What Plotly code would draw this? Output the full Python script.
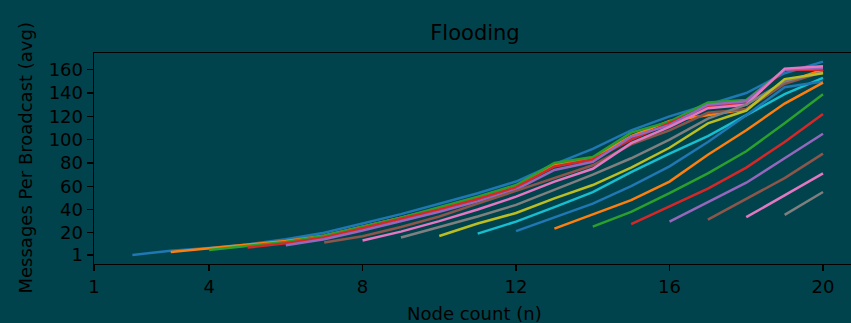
import plotly.graph_objects as go

# x values (node count n)
node_counts = [2, 3, 4, 5, 6, 7, 8, 9, 10, 11, 12, 13, 14, 15, 16, 17, 18, 19, 20]

# Each series starts at a different node count and runs to n = 20
flood_from_2 = [1, 4.5, 7, 10, 14.5, 20, 28, 36, 45, 54, 64, 79, 92, 108, 120, 130, 140, 157, 167]
flood_from_3 = [3.5, 6.5, 9.5, 13, 17.5, 25, 33, 41, 50, 60, 78, 84, 103, 116, 121, 126, 149, 160]
flood_from_4 = [5.3, 8.5, 12.2, 17.5, 25, 33, 42, 51, 61, 80, 85, 106, 115.5, 132, 134, 160, 161]
flood_from_5 = [7.3, 11, 16, 24, 32, 40, 49, 59, 77, 83, 100, 114, 128.5, 131, 160, 160]
flood_from_6 = [9.3, 14.5, 22, 30, 38, 47, 57, 74, 81, 102.5, 112.5, 130, 133, 160, 161.5]
flood_from_7 = [11.6, 17, 25, 34, 45, 56, 67, 78, 96, 108, 123, 126, 148, 158]
flood_from_8 = [13.3, 21, 30, 40, 51, 64, 75, 97, 111, 127, 130, 161, 163]
flood_from_9 = [15.9, 25, 34, 44, 57, 70, 84, 100, 118, 130, 150, 158]
flood_from_10 = [17.3, 28, 37, 49.5, 61, 76, 93, 114, 125, 152, 157]
flood_from_11 = [19.3, 29.6, 42, 55, 72, 88, 103, 121, 139, 153]
flood_from_12 = [21.4, 33, 45, 60, 77, 98, 121, 145, 150]
flood_from_13 = [23.6, 36, 48, 64, 87, 108, 131, 149]
flood_from_14 = [25.3, 38, 54, 71, 90, 114, 139]
flood_from_15 = [27.4, 42.5, 58, 76, 98, 122]
flood_from_16 = [29.6, 46, 63, 84, 105]
flood_from_17 = [31.3, 49, 67, 88]
flood_from_18 = [33.4, 52, 71]
flood_from_19 = [35.4, 55]

series_list = [flood_from_2, flood_from_3, flood_from_4, flood_from_5, flood_from_6,
               flood_from_7, flood_from_8, flood_from_9, flood_from_10, flood_from_11,
               flood_from_12, flood_from_13, flood_from_14, flood_from_15, flood_from_16,
               flood_from_17, flood_from_18, flood_from_19]

x_tick_vals = [1, 4, 8, 12, 16, 20]
y_tick_vals = [1, 20, 40, 60, 80, 100, 120, 140, 160]

palette = ["#1f77b4", "#ff7f0e", "#2ca02c", "#d62728", "#9467bd",
           "#8c564b", "#e377c2", "#7f7f7f", "#bcbd22", "#17becf"]

BG = "#01434c"
FONT = "DejaVu Sans"

fig = go.Figure()
for i, vals in enumerate(series_list):
    fig.add_trace(go.Scatter(
        x=node_counts[-len(vals):], y=vals, mode="lines",
        line=dict(color=palette[i % 10], width=2.5),
        showlegend=False, hoverinfo="skip"))

fig.update_layout(
    width=851, height=323,
    margin=dict(l=94, r=0, t=53, b=59),
    paper_bgcolor=BG, plot_bgcolor=BG,
    font=dict(family=FONT, size=18, color="#000000"),
    title=dict(text="Flooding", xref="container", x=475 / 851, xanchor="center",
               yref="container", y=1 - 33 / 323, yanchor="middle",
               font=dict(family=FONT, size=21, color="#000000")),
    xaxis=dict(range=[1, 20.73], tickvals=x_tick_vals, ticktext=[str(v) for v in x_tick_vals],
               showgrid=False, zeroline=False, showline=True, linecolor="#000000", linewidth=1.4,
               mirror=True, ticks="outside", ticklen=6, tickwidth=1.4, tickcolor="#000000",
               tickfont=dict(family=FONT, size=18, color="#000000")),
    yaxis=dict(range=[-6.8, 174.4], tickvals=y_tick_vals, ticktext=[str(v) for v in y_tick_vals],
               showgrid=False, zeroline=False, showline=True, linecolor="#000000", linewidth=1.4,
               mirror=False, ticks="outside", ticklen=6, tickwidth=1.4, tickcolor="#000000",
               tickfont=dict(family=FONT, size=18, color="#000000")),
    annotations=[
        dict(text="Node count (n)", xref="paper", yref="paper", x=(475 - 94) / 757, y=0,
             xanchor="center", yanchor="middle", yshift=-49, showarrow=False,
             font=dict(family=FONT, size=18, color="#000000")),
        dict(text="Messages Per Broadcast (avg)", xref="paper", yref="paper", x=0, y=0.5,
             xanchor="center", yanchor="middle", xshift=-69, textangle=-90, showarrow=False,
             font=dict(family=FONT, size=18, color="#000000")),
    ],
)

fig.write_html("out.html",
               config={"displayModeBar": False, "staticPlot": True},
               post_script="document.body.style.margin='0';document.body.style.padding='0';"
                           "document.body.style.overflow='hidden';")
